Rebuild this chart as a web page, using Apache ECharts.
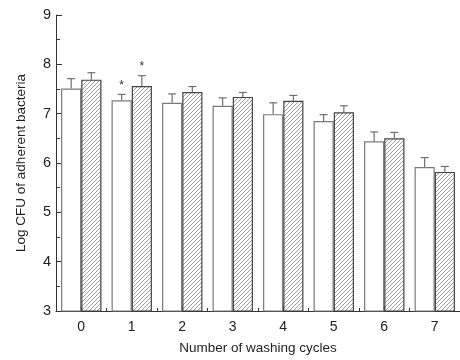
<!DOCTYPE html>
<html>
<head>
<meta charset="utf-8">
<script src="https://cdn.jsdelivr.net/npm/echarts@6/dist/echarts.min.js"></script>
<style>
  html, body { margin: 0; padding: 0; background: #fff; }
  #chart { width: 460px; height: 360px; }
</style>
</head>
<body>
<div id="chart"></div>
<script>
// Washing cycles on the x axis
const cycles = ['0', '1', '2', '3', '4', '5', '6', '7'];
// Mean log CFU, open bars and hatched bars
const openMeans = [7.51, 7.27, 7.22, 7.16, 6.99, 6.85, 6.44, 5.92];
const hatchMeans = [7.69, 7.56, 7.44, 7.34, 7.26, 7.03, 6.50, 5.82];
// Standard deviations (upper error bars)
const openErr = [0.20, 0.12, 0.18, 0.16, 0.23, 0.13, 0.19, 0.19];
const hatchErr = [0.14, 0.21, 0.11, 0.09, 0.11, 0.13, 0.12, 0.11];
// Significance markers drawn above the error bars
const openSig = [0, 1, 0, 0, 0, 0, 0, 0];
const hatchSig = [0, 1, 0, 0, 0, 0, 0, 0];

const yTicks = { min: 3, max: 9, step: 1 };

// Diagonal hatch tile for the second group of bars
function hatchTile() {
  const s = 4;
  const c = document.createElement('canvas');
  c.width = s; c.height = s;
  const g = c.getContext('2d');
  g.fillStyle = '#ffffff';
  g.fillRect(0, 0, s, s);
  g.strokeStyle = '#959595';
  g.lineWidth = 0.9;
  g.beginPath();
  g.moveTo(-1, s + 1); g.lineTo(s + 1, -1);
  g.moveTo(-1, 1); g.lineTo(1, -1);
  g.moveTo(s - 1, s + 1); g.lineTo(s + 1, s - 1);
  g.stroke();
  return c;
}

const FONT = 'Liberation Sans';
const AXIS_COLOR = '#333';
const ERR_COLOR = '#6f6f6f';

function errorSeries(means, errs, sigs, side) {
  return {
    type: 'custom',
    xAxisIndex: 1,
    z: 5,
    data: means.map((m, i) => [i, m, m + errs[i], sigs[i]]),
    renderItem: function (params, api) {
      const i = api.value(0);
      const band = api.size([1, 0])[0];
      const dx = side * band * 0.2;
      const base = api.coord([i, api.value(1)]);
      const top = api.coord([i, api.value(2)]);
      const x = base[0] + dx;
      const capHalf = 4;
      const children = [
        { type: 'line', shape: { x1: x, y1: base[1], x2: x, y2: top[1] },
          style: { stroke: ERR_COLOR, lineWidth: 1.2 } },
        { type: 'line', shape: { x1: x - capHalf, y1: top[1], x2: x + capHalf, y2: top[1] },
          style: { stroke: ERR_COLOR, lineWidth: 1.2 } }
      ];
      if (api.value(3)) {
        children.push({
          type: 'text',
          style: { text: '*', x: x, y: top[1] - 3, align: 'center', verticalAlign: 'bottom',
                   font: '12px ' + FONT, fill: '#333' }
        });
      }
      return { type: 'group', children: children };
    }
  };
}

const chart = echarts.init(document.getElementById('chart'), null, { renderer: 'canvas' });

chart.setOption({
  animation: false,
  backgroundColor: '#ffffff',
  grid: { left: 56, right: -4, top: 15, bottom: 43 },
  xAxis: [
    {
      type: 'category',
      data: cycles,
      boundaryGap: true,
      axisLine: { show: true, lineStyle: { color: AXIS_COLOR, width: 1 } },
      axisTick: { show: true, inside: true, length: 3, alignWithLabel: false,
                  lineStyle: { color: AXIS_COLOR } },
      axisLabel: { show: false },
      splitLine: { show: false }
    },
    {
      type: 'category',
      data: cycles,
      position: 'bottom',
      boundaryGap: true,
      axisLine: { show: false },
      axisTick: { show: true, inside: true, length: 5, alignWithLabel: true,
                  lineStyle: { color: AXIS_COLOR } },
      axisLabel: { show: true, margin: 9, fontFamily: FONT, fontSize: 14, color: '#222' },
      name: 'Number of washing cycles',
      nameLocation: 'middle',
      nameGap: 30,
      nameTextStyle: { fontFamily: FONT, fontSize: 13.5, color: '#222' },
      splitLine: { show: false }
    }
  ],
  yAxis: {
    type: 'value',
    min: yTicks.min,
    max: yTicks.max,
    interval: yTicks.step,
    axisLine: { show: true, lineStyle: { color: AXIS_COLOR, width: 1 } },
    axisTick: { show: true, inside: true, length: 6, lineStyle: { color: AXIS_COLOR } },
    minorTick: { show: true, splitNumber: 2, length: 4, lineStyle: { color: AXIS_COLOR } },
    axisLabel: { margin: 5, fontFamily: FONT, fontSize: 14.5, color: '#222' },
    splitLine: { show: false },
    name: 'Log CFU of adherent bacteria',
    nameLocation: 'middle',
    nameGap: 28,
    nameRotate: 90,
    nameTextStyle: { fontFamily: FONT, fontSize: 13.5, color: '#222' }
  },
  series: [
    {
      type: 'bar',
      data: openMeans,
      barWidth: '40%',
      barGap: '0%',
      itemStyle: { color: '#ffffff', borderColor: '#7a7a7a', borderWidth: 1.2 }
    },
    {
      type: 'bar',
      data: hatchMeans,
      barWidth: '40%',
      barGap: '0%',
      itemStyle: { color: { image: hatchTile(), repeat: 'repeat' },
                   borderColor: '#444', borderWidth: 1.2 }
    },
    errorSeries(openMeans, openErr, openSig, -1),
    errorSeries(hatchMeans, hatchErr, hatchSig, 1)
  ]
});
</script>
</body>
</html>
